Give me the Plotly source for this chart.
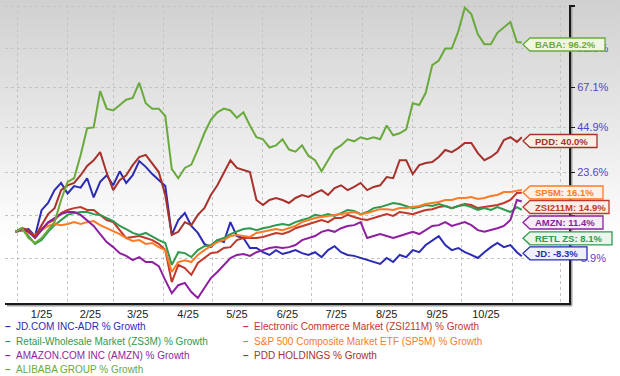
import base64
import plotly.graph_objects as go

# ---------------- data ----------------
dates = [
    "2024-12-31", "2025-01-04", "2025-01-08", "2025-01-12", "2025-01-16", "2025-01-20", "2025-01-24", "2025-01-28",
    "2025-02-01", "2025-02-05", "2025-02-09", "2025-02-13", "2025-02-17", "2025-02-21", "2025-02-25",
    "2025-03-01", "2025-03-05", "2025-03-09", "2025-03-13", "2025-03-17", "2025-03-21", "2025-03-25", "2025-03-29",
    "2025-04-02", "2025-04-06", "2025-04-10", "2025-04-14", "2025-04-18", "2025-04-22", "2025-04-26", "2025-04-30",
    "2025-05-04", "2025-05-08", "2025-05-12", "2025-05-16", "2025-05-20", "2025-05-24", "2025-05-28",
    "2025-06-01", "2025-06-05", "2025-06-09", "2025-06-13", "2025-06-17", "2025-06-21", "2025-06-25", "2025-06-29",
    "2025-07-03", "2025-07-07", "2025-07-11", "2025-07-15", "2025-07-19", "2025-07-23", "2025-07-27", "2025-07-31",
    "2025-08-04", "2025-08-08", "2025-08-12", "2025-08-16", "2025-08-20", "2025-08-24", "2025-08-28",
    "2025-09-01", "2025-09-05", "2025-09-09", "2025-09-13", "2025-09-17", "2025-09-21", "2025-09-25", "2025-09-29",
    "2025-10-03", "2025-10-07", "2025-10-11", "2025-10-15", "2025-10-19", "2025-10-23", "2025-10-27", "2025-10-31",
    "2025-11-04", "2025-11-07",
]

jd = [0, 0.5, 1.0, -1.5, 8, 10.8, 16, 19, 14.6, 17.7, 17, 21, 13, 19.5, 22.3,
      18, 24, 19, 22.3, 28.6, 26, 22.8, 20.2, 17.7, -1.1, 4.3, 6.9, 2.1, -0.4, -4.2, -5.3,
      -2.9, -3.6, 3.5, -1.5, -2.2, -5.6, -5.6, -7, -7.9, -6.3, -7.6, -7, -6.3, -7.3, -7.9,
      -7, -8.6, -6.3, -5, -7, -7.9, -8.2, -8.9, -9.6, -10.2, -10.8, -8.9, -10.2, -7.9, -8.6,
      -6.3, -7, -4.6, -2.9, -1.5, -4.6, -6.3, -5.6, -7, -7.9, -8.9, -7, -5.3, -3.9, -5.3, -4.6,
      -7, -8.3]

zsi211m = [0, 1.3, 0, -1.8, 1.0, 3.2, 4.3, 6.9, 8.1, 8.8, 9.2, 8.1, 8.1, 6.2, 4.3,
           3.5, 0.6, -2.2, -1.8, -1.5, -2.2, -2.9, -4.2, -6.3, -16.4, -11.1, -12.1, -14.2, -10.5, -8.9, -7.3,
           -7, -5.6, -5.3, -2.9, -2.2, -2.2, -2.2, -1.8, -1.1, -0.4, -0.8, 0, 1.3, 2.1, 2.8,
           3.5, 4.3, 3.5, 5, 5, 6.2, 5.4, 4.7, 4.3, 5, 5.8, 6.5, 5.8, 7.3, 6.9,
           6.5, 7.3, 8.1, 8.4, 9.2, 9.6, 8.8, 9.6, 10.4, 10, 8.8, 9.2, 9.6, 10, 10.8, 12,
           14.8, 14.9]

zs3m = [0, 1.0, -1.5, -4.2, -2.9, 0, 2.4, 4.3, 6.2, 6.9, 7.3, 7.3, 6.5, 6.2, 5,
        3.9, 2.1, 1.0, -0.4, -1.1, -0.4, -1.8, -2.9, -3.9, -11.1, -7, -7.3, -8.6, -6.3, -5, -4.6,
        -2.9, -2.2, -0.8, 0, 1.0, 1.3, 0.6, 1.3, 1.7, 2.4, 2.8, 2.4, 3.5, 4.3, 5,
        6.2, 5.8, 6.5, 5.8, 6.9, 8.1, 7.7, 6.5, 7.3, 8.8, 9.2, 10, 10.8, 10.4, 9.6,
        8.8, 9.2, 10, 9.6, 10.4, 9.6, 8.8, 9.6, 10, 9.2, 8.1, 8.8, 8.1, 9.2, 8.1, 7.3,
        9.2, 8.1]

sp5m = [0, 0.6, -0.4, -1.1, 0.6, 2.1, 2.8, 2.4, 2.8, 3.5, 2.8, 3.5, 3.9, 2.4, 1.3,
        0.3, -0.8, -2.2, -3.2, -2.9, -4.2, -3.9, -5.3, -6.3, -13.3, -10.2, -9.6, -10.2, -7.9, -6.3, -5,
        -3.6, -2.9, -1.5, -1.1, -1.5, -1.8, -0.4, 0, 0.6, 1.0, 0.6, 1.3, 2.1, 3.5, 4.3,
        5, 5.4, 5.8, 6.2, 6.5, 6.9, 7.3, 6.5, 6.9, 7.7, 8.4, 8.4, 8.1, 8.8, 8.8,
        9.2, 9.6, 10.4, 10.8, 11.2, 12, 12, 12.8, 12.8, 13.2, 12.4, 12.8, 13.6, 14, 15.2, 15.2,
        15.6, 16.1]

amzn = [0, 1.0, 0, -2.2, 0.6, 3.5, 5, 6.5, 7.3, 7.3, 6.2, 4.3, 2.1, -0.8, -3.6,
        -5.3, -7.3, -8.2, -9.6, -8.6, -10.2, -10.2, -11.5, -15.8, -19.6, -17.3, -16.6, -19.3, -21, -18.1, -15.2,
        -13.3, -11.1, -8.9, -7.9, -7.6, -8.2, -7, -6.3, -5.6, -5.3, -5.6, -5.3, -4.6, -2.9, -2.2,
        -1.5, 0, 0.6, 0, 1.3, 2.1, 2.4, 3.5, -2.2, -1.5, -0.8, -1.5, -2.2, -1.5, -0.8,
        0, -0.8, 0.6, 2.1, 2.4, 3.5, 2.1, 2.8, 3.5, 2.4, 0.6, 0, 0.6, 1.3, 2.1, 4.3,
        12, 11.4]

pdd = [0, 1.3, 0.6, -1.8, 2.4, 6.5, 8.8, 16, 18, 19, 22.3, 26.4, 29, 32.8, 23.3,
       16, 20.2, 22.3, 26.8, 30.5, 31.5, 27.7, 23.7, 14, -1.1, 0, 3.5, 2.4, 6.2, 8.8, 14,
       18, 23.7, 29, 25.5, 24.6, 23.7, 12, 10, 12, 12.8, 12, 10.8, 12.8, 14, 13.2,
       14.8, 16, 14, 16.8, 18, 16, 17.3, 19, 16, 17.3, 18, 21.5, 21, 29, 29,
       22.8, 26.8, 27.7, 28.2, 30.5, 33.8, 32.8, 34.7, 37.2, 37.2, 32.3, 29, 30.5, 32.8, 38.6, 40,
       37.7, 40.0]

baba = [0, 1.4, -2.2, -3.9, -2.2, 0.6, 3.5, 12, 19.4, 21, 31.4, 44.6, 45, 65, 55,
        54, 57, 60, 61, 70, 58, 55, 55, 51, 25, 21, 25.5, 27, 34, 42, 49,
        53, 55, 54, 50, 53, 46, 40, 39, 35, 36, 39, 34, 33, 36, 31,
        29, 24, 29, 34, 36, 39, 38, 40, 39, 40, 39, 46, 41, 42, 44,
        58, 57, 64, 81, 84, 92, 92, 104, 122, 117, 102, 95, 95, 103, 107, 111,
        96.5, 96.2]

series_names = [
    "JD.COM INC-ADR % Growth",
    "Electronic Commerce Market (ZSI211M) % Growth",
    "Retail-Wholesale Market (ZS3M) % Growth",
    "S&P 500 Composite Market ETF (SP5M) % Growth",
    "AMAZON.COM INC (AMZN) % Growth",
    "PDD HOLDINGS % Growth",
    "ALIBABA GROUP % Growth",
]
series_values = [jd, zsi211m, zs3m, sp5m, amzn, pdd, baba]
end_labels = ["JD: -8.3%", "ZSI211M: 14.9%", "RETL ZS: 8.1%", "SP5M: 16.1%",
              "AMZN: 11.4%", "PDD: 40.0%", "BABA: 96.2%"]

y_tick_values = [123.3, 92.3, 67.1, 44.9, 23.6, 5.8, -8.9]
y_tick_labels = ["123.3%", "92.3%", "67.1%", "44.9%", "23.6%", "", "-8.9%"]

month_positions = ["2025-01-16", "2025-02-15", "2025-03-16", "2025-04-16", "2025-05-16",
                   "2025-06-16", "2025-07-16", "2025-08-16", "2025-09-16", "2025-10-16"]
month_labels = ["1/25", "2/25", "3/25", "4/25", "5/25", "6/25", "7/25", "8/25", "9/25", "10/25"]

# ---------------- styling ----------------
colors = ["#2b2bb5", "#c0392b", "#2e9a4e", "#ff7a24", "#8e1fa0", "#a8312c", "#6aaa3c"]
fills = ["#eef0fb", "#fbeee8", "#eaf6ec", "#fff1e6", "#f5ecf7", "#f9f0e4", "#f1f6e2"]

W, H = 620, 376
L, R, T, B = 5, 569, 5, 303      # plot area in pixels


def px(x):
    return (x - L) / (R - L)


def py(y):
    return (B - y) / (B - T)


fig = go.Figure()
for name, vals, col in zip(series_names, series_values, colors):
    fig.add_trace(go.Scatter(
        x=dates, y=[1 + v / 100 for v in vals], mode="lines", name=name,
        line=dict(color=col, width=2), showlegend=False, hoverinfo="skip"))

# background gradient
svg = ('<svg xmlns="http://www.w3.org/2000/svg" width="620" height="376">'
       '<defs><linearGradient id="g" x1="0" y1="0" x2="0" y2="1">'
       '<stop offset="0" stop-color="#d0d0d0"/><stop offset="0.64" stop-color="#ffffff"/>'
       '</linearGradient></defs><rect width="620" height="376" fill="url(#g)"/></svg>')
src = "data:image/svg+xml;base64," + base64.b64encode(svg.encode()).decode()

shapes = [
    # soft shadow of the chart frame
    dict(type="line", xref="paper", yref="paper", x0=px(7), x1=px(572), y0=py(305.5), y1=py(305.5),
         line=dict(color="#a0a0a0", width=2), layer="below"),
    dict(type="line", xref="paper", yref="paper", x0=px(571.5), x1=px(571.5), y0=py(7), y1=py(305.5),
         line=dict(color="#a0a0a0", width=2), layer="below"),
]
annotations = []

# end-label tags
tag_centers = [253.3, 207, 238.3, 192.5, 222.5, 141, 44.5]
tag_rights = [587, 609, 612, 603, 603, 597, 605]
for lab, col, fc, cy, rx in zip(end_labels, colors, fills, tag_centers, tag_rights):
    hh = 6.5
    path = (f"M {px(523)},{py(cy)} L {px(530)},{py(cy - hh)} L {px(rx)},{py(cy - hh)} "
            f"L {px(rx)},{py(cy + hh)} L {px(530)},{py(cy + hh)} Z")
    shapes.append(dict(type="path", path=path, xref="paper", yref="paper",
                       fillcolor=fc, line=dict(color=col, width=1.3), layer="above"))
    annotations.append(dict(text=f"<b>{lab}</b>", x=px(533), y=py(cy), xref="paper", yref="paper",
                            xanchor="left", yanchor="middle", showarrow=False,
                            font=dict(size=9.5, color=col, family="Liberation Sans, Arial")))

# legend (two columns)
leg_x = [3, 241]
leg_y = [327, 341, 355, 369]
for i, (name, col) in enumerate(zip(series_names, colors)):
    cx = leg_x[i % 2]
    cy = leg_y[i // 2]
    annotations.append(dict(text=f"<b>–</b>&nbsp;&nbsp;{name}", x=px(cx), y=py(cy),
                            xref="paper", yref="paper", xanchor="left", yanchor="middle",
                            showarrow=False,
                            font=dict(size=10, color=col, family="Liberation Sans, Arial")))

fig.update_layout(
    width=W, height=H,
    margin=dict(l=L, r=W - R, t=T, b=H - B),
    paper_bgcolor="white", plot_bgcolor="rgba(0,0,0,0)",
    images=[dict(source=src, xref="paper", yref="paper", x=px(0), y=py(0),
                 sizex=px(W) - px(0), sizey=py(0) - py(H), sizing="stretch",
                 xanchor="left", yanchor="top", layer="below")],
    shapes=shapes, annotations=annotations,
    showlegend=False,
    xaxis=dict(
        type="date", range=["2024-12-24 13:00", "2025-12-06"],
        tickvals=month_positions, ticktext=month_labels, ticks="",
        showgrid=False, zeroline=False,
        minor=dict(dtick="M1", tick0="2025-01-01", showgrid=True,
                   gridcolor="#c4c4c4", griddash="3px,3px", gridwidth=1),
        showline=True, linecolor="#1a1a1a", linewidth=2,
        tickfont=dict(size=11, color="#222", family="Liberation Sans, Arial"),
    ),
    yaxis=dict(
        type="log", side="right",
        range=[-0.1100, 0.3505],
        tickvals=[1 + v / 100 for v in y_tick_values], ticktext=y_tick_labels,
        ticks="outside", ticklen=4, tickwidth=1.5, tickcolor="#1a1a1a",
        showgrid=True, gridcolor="#c4c4c4", griddash="3px,3px", gridwidth=1,
        zeroline=False, showline=True, linecolor="#1a1a1a", linewidth=2,
        tickfont=dict(size=11, color="#5046c8", family="Liberation Sans, Arial"),
    ),
)

fig.write_html("out.html",
               config={"displayModeBar": False, "staticPlot": True},
               post_script="document.body.style.margin='0px';"
                           "document.documentElement.style.overflow='hidden';")
